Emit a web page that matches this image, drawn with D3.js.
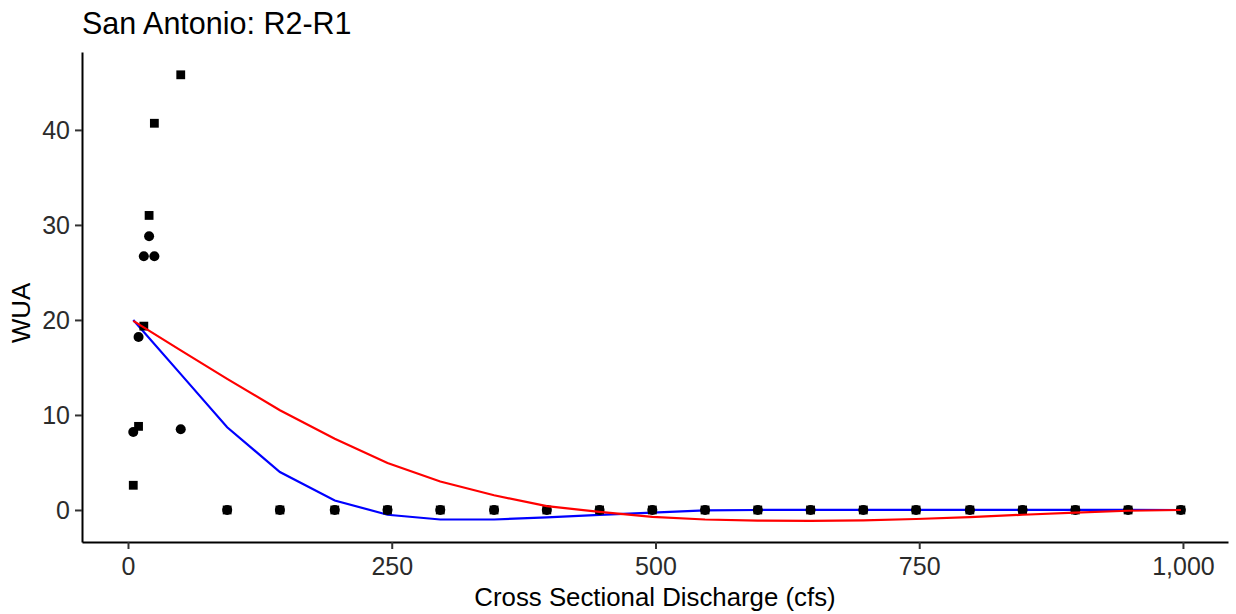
<!DOCTYPE html>
<html>
<head>
<meta charset="utf-8">
<script src="https://cdn.jsdelivr.net/npm/d3@7"></script>
<style>
  body { margin: 0; background: #fff; }
  svg { display: block; font-family: "Liberation Sans", Arial, sans-serif; }
</style>
</head>
<body>
<svg id="chart" width="1236" height="614"></svg>
<script>
// ---- data ----
const titleText = "San Antonio: R2-R1";
const xLabel = "Cross Sectional Discharge (cfs)";
const yLabel = "WUA";

const lowX = [5, 10, 15, 20, 25, 50];
const circleLowY = [8.2, 18.2, 26.7, 28.8, 26.7, 8.5];
const squareLowY = [2.6, 8.8, 19.35, 31.0, 40.7, 45.8];

const highX = [94, 144, 196, 246, 296, 347, 397, 447, 497, 547, 597, 647, 697, 747, 798, 848, 898, 948, 998];
const circleHighY = [0, 0, 0, 0, 0, 0, 0, 0, 0, 0, 0, 0, 0, 0, 0, 0, 0, 0, 0];
const squareHighY = [0, 0, 0, 0, 0, 0, 0, 0, 0, 0, 0, 0, 0, 0, 0, 0, 0, 0, 0];

const lineX = [5, 50, 94, 144, 196, 246, 296, 347, 397, 447, 497, 547, 597, 647, 697, 747, 798, 848, 898, 948, 998];
const blueY = [20.0, 14.3, 8.7, 4.0, 1.0, -0.5, -1.0, -1.0, -0.78, -0.52, -0.27, -0.05, 0, 0.02, 0.02, 0.02, 0.02, 0.02, 0.01, 0.01, 0];
const redY = [19.9, 16.8, 13.8, 10.5, 7.5, 4.95, 3.0, 1.55, 0.4, -0.2, -0.72, -1.0, -1.12, -1.15, -1.1, -0.95, -0.75, -0.5, -0.28, -0.08, 0];

const xTicks = [0, 250, 500, 750, 1000];
const yTicks = [0, 10, 20, 30, 40];

// ---- layout ----
const svg = d3.select("#chart");
const L = 82, R = 1228, T = 52, B = 542;

const x = d3.scaleLinear().domain([-43.6, 1042.7]).range([L, R]);
const y = d3.scaleLinear().domain([-3.37, 48.2]).range([B, T]);

const circles = lowX.map((v, i) => ({x: v, y: circleLowY[i]}))
  .concat(highX.map((v, i) => ({x: v, y: circleHighY[i]})));
const squares = lowX.map((v, i) => ({x: v, y: squareLowY[i]}))
  .concat(highX.map((v, i) => ({x: v, y: squareHighY[i]})));

const line = d3.line().x(d => x(d.x)).y(d => y(d.y));
const blueData = lineX.map((v, i) => ({x: v, y: blueY[i]}));
const redData = lineX.map((v, i) => ({x: v, y: redY[i]}));

// axes
const fmt = d3.format(",");
const xAxis = svg.append("g").attr("transform", `translate(0,${B})`)
  .call(d3.axisBottom(x).tickValues(xTicks).tickFormat(fmt).tickSize(7).tickSizeOuter(0).tickPadding(8));
const yAxis = svg.append("g").attr("transform", `translate(${L},0)`)
  .call(d3.axisLeft(y).tickValues(yTicks).tickSize(7).tickSizeOuter(0).tickPadding(5));

[xAxis, yAxis].forEach(g => {
  g.select(".domain").attr("stroke", "#000").attr("stroke-width", 2);
  g.selectAll(".tick line").attr("stroke", "#333").attr("stroke-width", 2);
  g.selectAll(".tick text").attr("fill", "#2b2b2b").style("font-size", "25px")
    .style("font-family", "'Liberation Sans', Arial, sans-serif");
});
yAxis.selectAll(".tick text").attr("dy", "0.36em");

// blue line (under points)
svg.append("path").datum(blueData).attr("d", line)
  .attr("fill", "none").attr("stroke", "#0000ff").attr("stroke-width", 2.2);

// squares
const sq = 8.8;
svg.append("g").selectAll("rect").data(squares).join("rect")
  .attr("x", d => x(d.x) - sq / 2).attr("y", d => y(d.y) - sq / 2)
  .attr("width", sq).attr("height", sq).attr("fill", "#000");

// circles
svg.append("g").selectAll("circle").data(circles).join("circle")
  .attr("cx", d => x(d.x)).attr("cy", d => y(d.y)).attr("r", 5).attr("fill", "#000");

// red line
svg.append("path").datum(redData).attr("d", line)
  .attr("fill", "none").attr("stroke", "#ff0000").attr("stroke-width", 2.2);

// titles
svg.append("text").attr("x", L).attr("y", 34).text(titleText)
  .style("font-size", "30.5px").attr("fill", "#000");
svg.append("text").attr("x", (L + R) / 2).attr("y", 606).attr("text-anchor", "middle")
  .text(xLabel).style("font-size", "25.8px").attr("fill", "#000");
svg.append("text").attr("transform", `translate(30,${(T + B) / 2 + 16}) rotate(-90)`)
  .attr("text-anchor", "middle").text(yLabel).style("font-size", "25.8px").attr("fill", "#000");
</script>
</body>
</html>
